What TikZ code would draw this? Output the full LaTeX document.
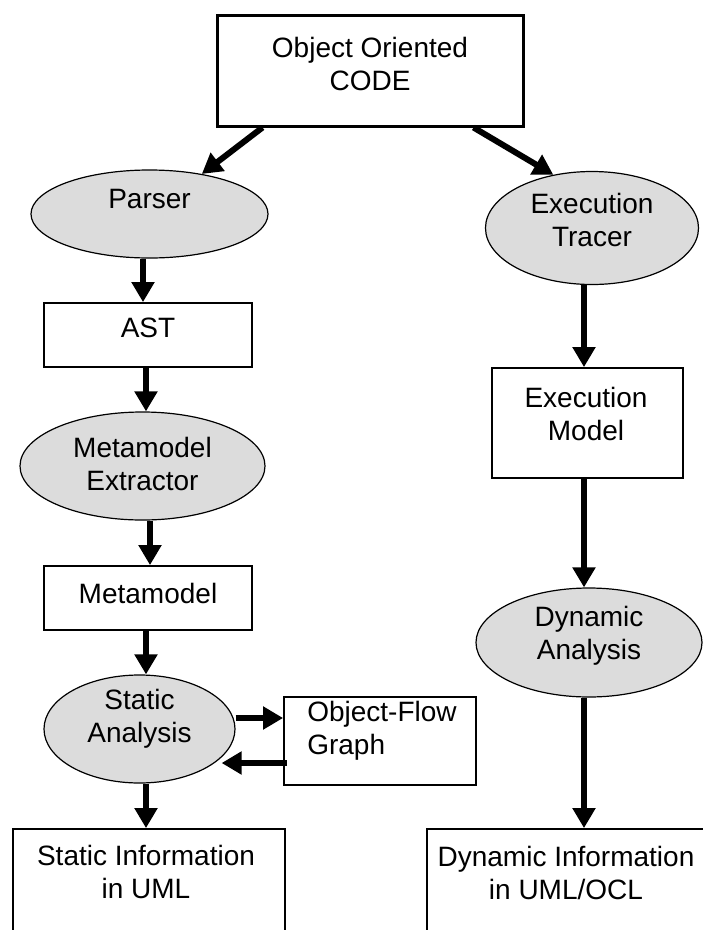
\documentclass[tikz,border=0pt]{standalone}
\usepackage{fontspec}
\setmainfont{Liberation Sans}
\usetikzlibrary{arrows.meta,shapes.geometric,calc}
\definecolor{ovalgray}{RGB}{220,220,220}
\begin{document}
\begin{tikzpicture}[x=1pt,y=-1pt,
  txt/.style={font=\fontsize{28}{33}\selectfont, align=center, inner sep=0pt},
  box/.style={draw, line width=1.8pt, rectangle, inner sep=0pt},
  oval/.style={draw, line width=1.2pt, ellipse, fill=ovalgray, inner sep=0pt},
  arr/.style={line width=6pt, -{Triangle[width=22pt,length=20pt]}}]
\useasboundingbox (0,0) rectangle (703,930);
% nodes
\node[box, line width=3pt, minimum width=306pt, minimum height=111pt,
  label={[txt,yshift=7pt]center:{Object Oriented\\CODE}}] (code) at (370,70.5) {};
\node[oval, minimum width=237pt, minimum height=88pt,
  label={[txt,yshift=15pt]center:{Parser}}] (parser) at (149.5,214) {};
\node[oval, minimum width=213pt, minimum height=113pt,
  label={[txt,yshift=8pt]center:{Execution\\Tracer}}] (tracer) at (592,228) {};
\node[box, minimum width=208pt, minimum height=64pt,
  label={[txt,yshift=7pt]center:{AST}}] (ast) at (148,335) {};
\node[oval, minimum width=245pt, minimum height=108pt,
  label={[txt,yshift=2pt]center:{Metamodel\\Extractor}}] (extractor) at (142.5,466) {};
\node[box, minimum width=208pt, minimum height=64pt,
  label={[txt,yshift=5pt]center:{Metamodel}}] (meta) at (148,598) {};
\node[oval, minimum width=191pt, minimum height=108pt,
  label={[txt,yshift=10pt]center:{Static\\Analysis}}] (static) at (139.5,729) {};
\node[box, minimum width=192pt, minimum height=88pt,
  label={[txt,align=left,xshift=2pt,yshift=10pt]center:{Object-Flow\\Graph}}] (ofg) at (380,741) {};
\node[box, minimum width=272pt, minimum height=131pt,
  label={[txt,xshift=-3pt,yshift=22.5pt]center:{Static Information\\in UML}}] (sinfo) at (149,894.5) {};
\node[box, minimum width=191pt, minimum height=110pt,
  label={[txt,xshift=-1.5pt,yshift=9.5pt]center:{Execution\\Model}}] (model) at (587.5,423) {};
\node[oval, minimum width=226pt, minimum height=109pt,
  label={[txt,yshift=6.5pt]center:{Dynamic\\Analysis}}] (dynamic) at (589,642.5) {};
\node[box, minimum width=293pt, minimum height=131pt,
  label={[txt,xshift=-7.5pt,yshift=21.5pt]center:{Dynamic Information\\in UML/OCL}}] (dinfo) at (573.5,894.5) {};
% connectors
\draw[arr] ($(code.south west)+(47,0)$) -- (parser);
\draw[arr] ($(code.south east)+(-51,0)$) -- (tracer.126);
\draw[arr] (parser.south -| 143,0) -- (ast.north -| 143,0);
\draw[arr] (ast.south -| 146,0) -- (extractor.north -| 146,0);
\draw[arr] (extractor.south -| 150,0) -- (meta.north -| 150,0);
\draw[arr] (meta.south -| 146,0) -- (static.north -| 146,0);
\draw[arr] (static.south -| 146,0) -- (sinfo.north -| 146,0);
\draw[arr] ($(static.east |- ofg.west)+(0,-23)$) -- ($(ofg.west)+(0,-23)$);
\draw[arr] ($(ofg.west)+(4,22)$) -- ($(static.east |- ofg.west)+(-14,22)$);
\draw[arr] (tracer.south -| 584,0) -- (model.north -| 584,0);
\draw[arr] (model.south -| 584,0) -- (dynamic.north -| 584,0);
\draw[arr] (dynamic.south -| 584,0) -- (dinfo.north -| 584,0);
\end{tikzpicture}
\end{document}
